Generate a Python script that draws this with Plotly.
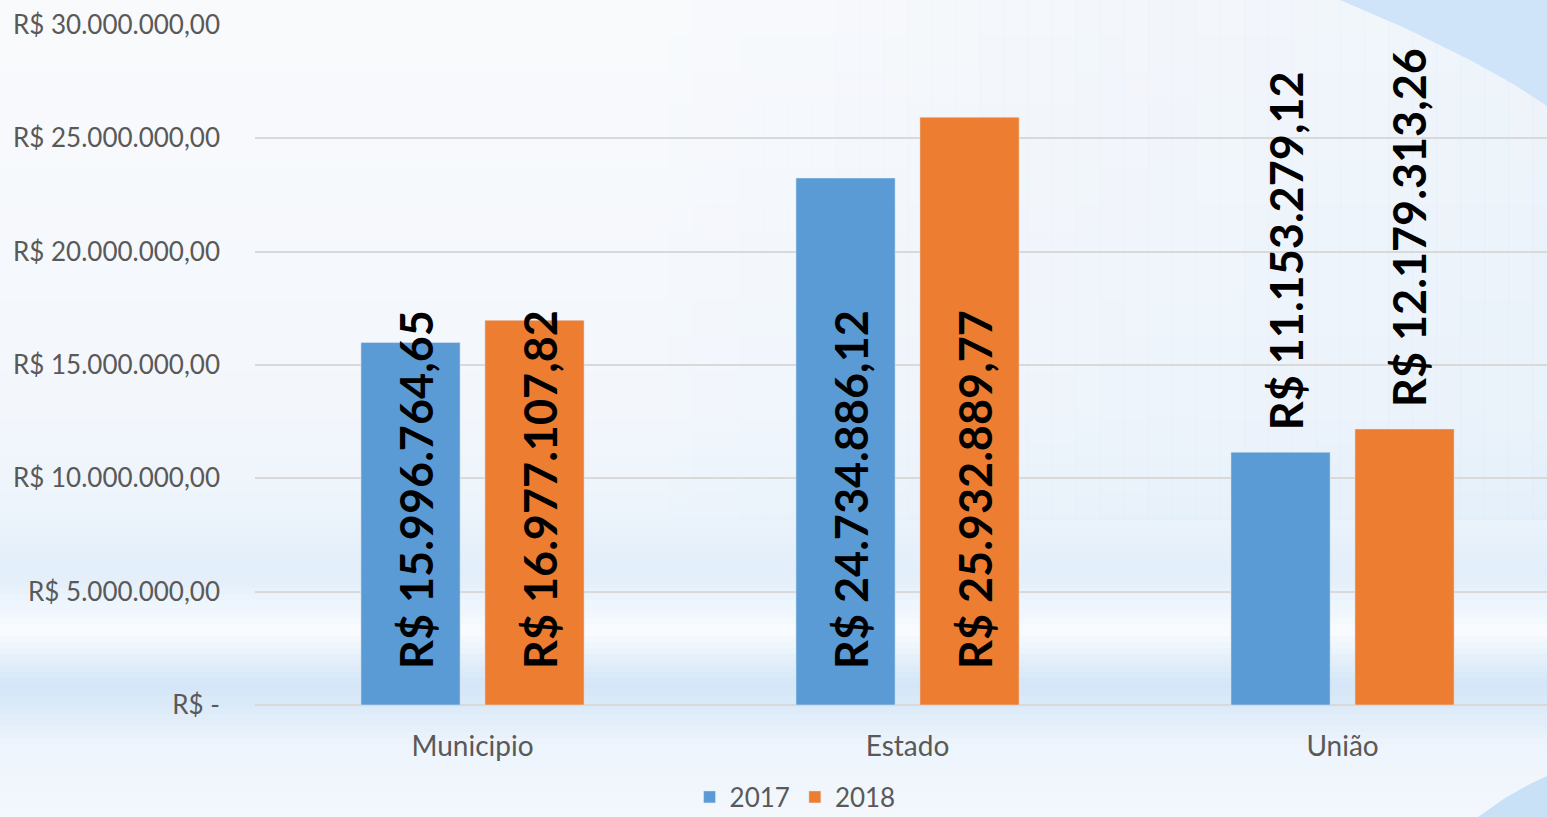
import plotly.graph_objects as go

categories = ["Municipio", "Estado", "União"]
years = ["2017", "2018"]
values_2017 = [15996764.65, 23250000.00, 11153279.12]
values_2018 = [16977107.82, 25932889.77, 12179313.26]
labels_2017 = ["R$ 15.996.764,65", "R$ 24.734.886,12", "R$ 11.153.279,12"]
labels_2018 = ["R$ 16.977.107,82", "R$ 25.932.889,77", "R$ 12.179.313,26"]
label_place = ["base", "base", "end"]
tick_vals = [0, 5e6, 10e6, 15e6, 20e6, 25e6, 30e6]
tick_text = ["R$ -", "R$ 5.000.000,00", "R$ 10.000.000,00", "R$ 15.000.000,00",
             "R$ 20.000.000,00", "R$ 25.000.000,00", "R$ 30.000.000,00"]

BLUE = "#5b9bd5"
ORANGE = "#ed7d31"
FONT = "Lato, 'Open Sans', sans-serif"
W, H = 1547, 817
L, R, T, B = 255, 0, 25, 112
PW, PH = W - L - R, H - T - B


def px(x, y):
    # pixel -> paper coords
    return (x - L) / PW, (H - B - y) / PH


def hex2rgb(h):
    h = h.lstrip("#")
    return [int(h[i:i + 2], 16) for i in (0, 2, 4)]


def mix(c1, c2, t):
    a, b = hex2rgb(c1), hex2rgb(c2)
    return "rgb(%d,%d,%d)" % tuple(round(a[i] + (b[i] - a[i]) * t) for i in range(3))


# background bands (pixel y, colour)
bg_stops = [
    (0, "#f9fafc"), (400, "#f3f7fc"), (505, "#edf4fb"), (572, "#e2eefa"),
    (605, "#eff6fd"), (630, "#f9fbfe"), (655, "#e5f0fa"), (682, "#d3e6f7"),
    (708, "#deebf8"), (740, "#edf4fc"), (817, "#f4f8fd"),
]

shapes = []
step = 6
for y in range(0, H, step):
    for (y0, c0), (y1, c1) in zip(bg_stops, bg_stops[1:]):
        if y0 <= y < y1:
            col = mix(c0, c1, (y - y0) / (y1 - y0))
            break
    x0p, y0p = px(0, y)
    x1p, y1p = px(W, y + step + 1)
    shapes.append(dict(type="rect", xref="paper", yref="paper", x0=x0p, x1=x1p,
                       y0=y1p, y1=y0p, fillcolor=col, line=dict(width=0), layer="below"))

# slight blue tint towards the right in upper area
for i in range(40):
    x = 620 + i * 24
    a = 0.006 * i
    x0p, y0p = px(x, 0)
    x1p, y1p = px(x + 25, 520)
    shapes.append(dict(type="rect", xref="paper", yref="paper", x0=x0p, x1=x1p,
                       y0=y1p, y1=y0p, fillcolor="rgba(205,226,247,%.3f)" % a,
                       line=dict(width=0), layer="below"))


def path(points):
    s = ""
    for i, (x, y) in enumerate(points):
        xp, yp = px(x, y)
        s += ("M" if i == 0 else "L") + " %.4f %.4f " % (xp, yp)
    return s + "Z"


swoosh_top = [(1340, 0), (1405, 28), (1470, 60), (1515, 85), (1547, 106), (1547, 0)]
swoosh_bot = [(1478, 817), (1505, 798), (1530, 784), (1547, 776), (1547, 817)]
shapes.append(dict(type="path", xref="paper", yref="paper", path=path(swoosh_top),
                   fillcolor="#cfe4f8", line=dict(width=0), layer="below"))
shapes.append(dict(type="path", xref="paper", yref="paper", path=path(swoosh_bot),
                   fillcolor="#c9e1f7", line=dict(width=0), layer="below"))

fig = go.Figure()
fig.add_trace(go.Bar(x=categories, y=values_2017, name=years[0], marker_color=BLUE))
fig.add_trace(go.Bar(x=categories, y=values_2018, name=years[1], marker_color=ORANGE))

offset = 0.1425
annotations = []
for vals, labels, off in ((values_2017, labels_2017, -offset), (values_2018, labels_2018, offset)):
    for i, (v, lab) in enumerate(zip(vals, labels)):
        base = label_place[i] == "base"
        annotations.append(dict(
            x=i + off, y=0 if base else v, xref="x", yref="y",
            text="<b>%s</b>" % lab, showarrow=False, textangle=-90,
            xanchor="center", yanchor="bottom", xshift=5,
            yshift=34 if base else 20,
            font=dict(family=FONT, size=45, color="#000000"),
        ))

fig.update_layout(
    width=W, height=H,
    margin=dict(l=L, r=R, t=T, b=B, autoexpand=False),
    paper_bgcolor="#f6f9fd",
    plot_bgcolor="rgba(0,0,0,0)",
    barmode="group", bargap=0.43, bargroupgap=0.2,
    shapes=shapes, annotations=annotations,
    font=dict(family=FONT, size=26, color="#595959"),
    legend=dict(orientation="h", x=0.418, xanchor="center",
                yref="container", y=1 - 797 / H, yanchor="middle",
                font=dict(size=26, color="#595959"), bgcolor="rgba(0,0,0,0)"),
    showlegend=True,
)
fig.update_xaxes(range=[-0.5, 2.47], showgrid=False, showline=False, ticks="",
                 ticklabelstandoff=22, tickfont=dict(size=28, color="#595959"))
fig.update_yaxes(range=[0, 30e6], tickvals=tick_vals, ticktext=tick_text,
                 showgrid=True, gridcolor="#d9d9d9", gridwidth=2,
                 zeroline=True, zerolinecolor="#d9d9d9", zerolinewidth=2,
                 showline=False, ticks="", ticklabelstandoff=34,
                 tickfont=dict(size=26, color="#595959"))

fig.write_html(
    "out.html",
    config={"displayModeBar": False},
    post_script=(
        "var gd=document.getElementById('{plot_id}');"
        "gd.style.position='absolute';gd.style.top='0px';gd.style.left='0px';"
        "document.body.style.margin='0px';document.body.style.overflow='hidden';"
        "document.documentElement.style.overflow='hidden';"
    ),
)
